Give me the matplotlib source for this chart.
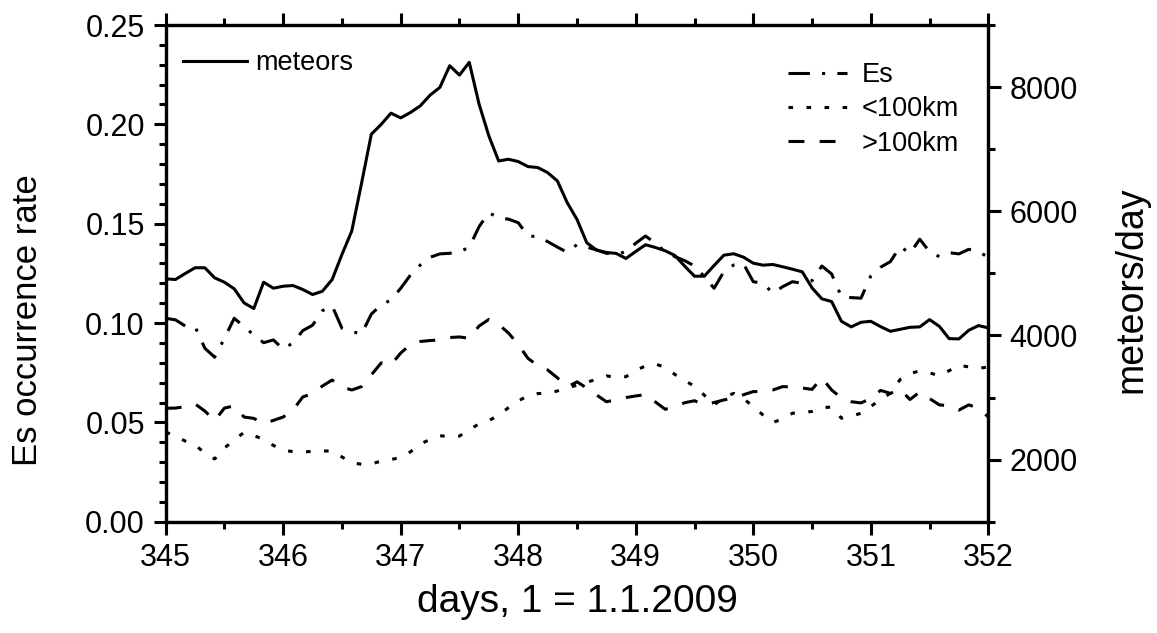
import numpy as np
import matplotlib
matplotlib.use("Agg")
import matplotlib.pyplot as plt
from matplotlib.ticker import MultipleLocator, FormatStrFormatter

plt.rcParams['font.family'] = ['Liberation Sans', 'DejaVu Sans']

# 2-hourly samples, 345.0 .. 352.0
days = 345 + np.arange(85) / 12

meteors = [4912, 4901, 4998, 5090, 5090, 4928, 4857, 4751, 4525, 4433,
           4857, 4761, 4793, 4804, 4740, 4659, 4712, 4901, 5305, 5681,
           6451, 7241, 7398, 7580, 7504, 7592, 7698, 7871, 7995, 8344,
           8194, 8399, 7726, 7214, 6810, 6838, 6801, 6720, 6704, 6623,
           6488, 6139, 5869, 5493, 5374, 5337, 5321, 5240, 5353, 5461,
           5417, 5364, 5288, 5116, 4954, 4954, 5127, 5293, 5316, 5261,
           5164, 5132, 5143, 5106, 5067, 5025, 4767, 4590, 4546, 4228,
           4138, 4212, 4228, 4142, 4067, 4099, 4131, 4138, 4255, 4147,
           3949, 3944, 4083, 4159, 4122]

es = [0.1024, 0.1016, 0.0985, 0.0982, 0.0873, 0.0828, 0.0923, 0.1024, 0.0982, 0.0940,
      0.0901, 0.0915, 0.0868, 0.0901, 0.0962, 0.0989, 0.1062, 0.1086, 0.0974, 0.0957,
      0.0945, 0.1045, 0.1091, 0.1116, 0.1175, 0.1242, 0.1292, 0.1331, 0.1348, 0.1351,
      0.1358, 0.1382, 0.1485, 0.1556, 0.1528, 0.1523, 0.1505, 0.1438, 0.1435, 0.1410,
      0.1382, 0.1356, 0.1395, 0.1382, 0.1368, 0.1351, 0.1346, 0.1359, 0.1402, 0.1438,
      0.1402, 0.1359, 0.1334, 0.1314, 0.1287, 0.1234, 0.1175, 0.1259, 0.1292, 0.1298,
      0.1208, 0.1200, 0.1150, 0.1183, 0.1208, 0.1200, 0.1213, 0.1287, 0.1247, 0.1133,
      0.1128, 0.1125, 0.1237, 0.1281, 0.1309, 0.1385, 0.1351, 0.1422, 0.1359, 0.1334,
      0.1354, 0.1348, 0.1371, 0.1359, 0.1331]

below_100 = [0.0452, 0.0429, 0.0406, 0.0386, 0.0346, 0.0316, 0.0371, 0.0411, 0.0450, 0.0434,
             0.0414, 0.0384, 0.0359, 0.0353, 0.0351, 0.0354, 0.0356, 0.0356, 0.0326, 0.0297,
             0.0289, 0.0291, 0.0305, 0.0313, 0.0323, 0.0352, 0.0391, 0.0414, 0.0433, 0.0428,
             0.0431, 0.0464, 0.0492, 0.0509, 0.0536, 0.0574, 0.0608, 0.0634, 0.0645, 0.0647,
             0.0658, 0.0673, 0.0687, 0.0701, 0.0718, 0.0734, 0.0727, 0.0730, 0.0762, 0.0784,
             0.0794, 0.0777, 0.0741, 0.0710, 0.0682, 0.0637, 0.0587, 0.0626, 0.0646, 0.0620,
             0.0579, 0.0537, 0.0500, 0.0517, 0.0546, 0.0550, 0.0555, 0.0574, 0.0577, 0.0521,
             0.0531, 0.0546, 0.0580, 0.0615, 0.0647, 0.0716, 0.0746, 0.0759, 0.0749, 0.0735,
             0.0760, 0.0788, 0.0779, 0.0772, 0.0779]

above_100 = [0.0571, 0.0572, 0.0579, 0.0593, 0.0557, 0.0509, 0.0572, 0.0583, 0.0527, 0.0520,
             0.0494, 0.0510, 0.0527, 0.0562, 0.0628, 0.0645, 0.0683, 0.0713, 0.0678, 0.0663,
             0.0680, 0.0739, 0.0799, 0.0789, 0.0849, 0.0892, 0.0907, 0.0912, 0.0915, 0.0927,
             0.0930, 0.0923, 0.0985, 0.1018, 0.0993, 0.0950, 0.0892, 0.0822, 0.0786, 0.0764,
             0.0724, 0.0678, 0.0704, 0.0673, 0.0638, 0.0604, 0.0613, 0.0625, 0.0633, 0.0640,
             0.0603, 0.0566, 0.0579, 0.0599, 0.0609, 0.0588, 0.0600, 0.0613, 0.0623, 0.0639,
             0.0655, 0.0655, 0.0663, 0.0680, 0.0678, 0.0673, 0.0666, 0.0724, 0.0663, 0.0623,
             0.0604, 0.0598, 0.0620, 0.0661, 0.0646, 0.0666, 0.0615, 0.0653, 0.0620, 0.0588,
             0.0584, 0.0562, 0.0588, 0.0572, 0.0527]

lw = 2.2
tick_fs = 22
legend_fs = 19.5

fig = plt.figure(figsize=(11.57, 6.33), dpi=100)
ax1 = fig.add_axes([0.1432, 0.1758, 0.7110, 0.7847])
ax2 = ax1.twinx()

l_es, = ax1.plot(days, es, color='black', lw=lw, linestyle=(0, (7, 4, 1, 4)), label='Es')
l_lo, = ax1.plot(days, below_100, color='black', lw=lw, linestyle=(0, (1.5, 4.4)), label='<100km')
l_hi, = ax1.plot(days, above_100, color='black', lw=lw, linestyle=(0, (5.2, 5.0)), label='>100km')
l_met, = ax2.plot(days, meteors, color='black', lw=lw, label='meteors')

ax1.set_xlim(345, 352)
ax1.set_ylim(0, 0.25)
ax2.set_ylim(1000, 9000)

ax1.xaxis.set_major_locator(MultipleLocator(1))
ax1.xaxis.set_minor_locator(MultipleLocator(0.5))
ax1.yaxis.set_major_locator(MultipleLocator(0.05))
ax1.yaxis.set_minor_locator(MultipleLocator(0.01))
ax1.yaxis.set_major_formatter(FormatStrFormatter('%.2f'))
ax2.yaxis.set_major_locator(MultipleLocator(2000))
ax2.yaxis.set_minor_locator(MultipleLocator(1000))

for ax in (ax1, ax2):
    for sp in ax.spines.values():
        sp.set_linewidth(2.3)
    ax.tick_params(which='major', length=9, width=2.2, direction='out',
                   labelsize=tick_fs, pad=6)
    ax.tick_params(which='minor', length=5, width=2.2, direction='out')

ax1.tick_params(which='both', top=True, right=False)
ax2.tick_params(which='both', left=False, right=True, top=False, bottom=False)

ax1.set_xlabel('days, 1 = 1.1.2009', fontsize=28)
ax1.set_ylabel('Es occurrence rate', fontsize=25)
ax2.set_ylabel('meteors/day', fontsize=27)
ax1.xaxis.set_label_coords(0.5, -0.125)
ax1.yaxis.set_label_coords(-0.148, 0.406)
ax2.yaxis.set_label_coords(1.152, 0.466)

leg1 = ax2.legend(handles=[l_met], loc='center left', bbox_to_anchor=(0.0207, 0.9235),
                  frameon=False, fontsize=legend_fs, handlelength=2.37,
                  handletextpad=0.3, borderpad=0, borderaxespad=0)
leg2 = ax1.legend(handles=[l_es, l_lo, l_hi], loc='center left',
                  bbox_to_anchor=(0.757, 0.830), frameon=False, fontsize=legend_fs,
                  handlelength=2.15, handletextpad=0.55, labelspacing=0.3,
                  borderpad=0, borderaxespad=0)

fig.savefig('out.png', dpi=100)
